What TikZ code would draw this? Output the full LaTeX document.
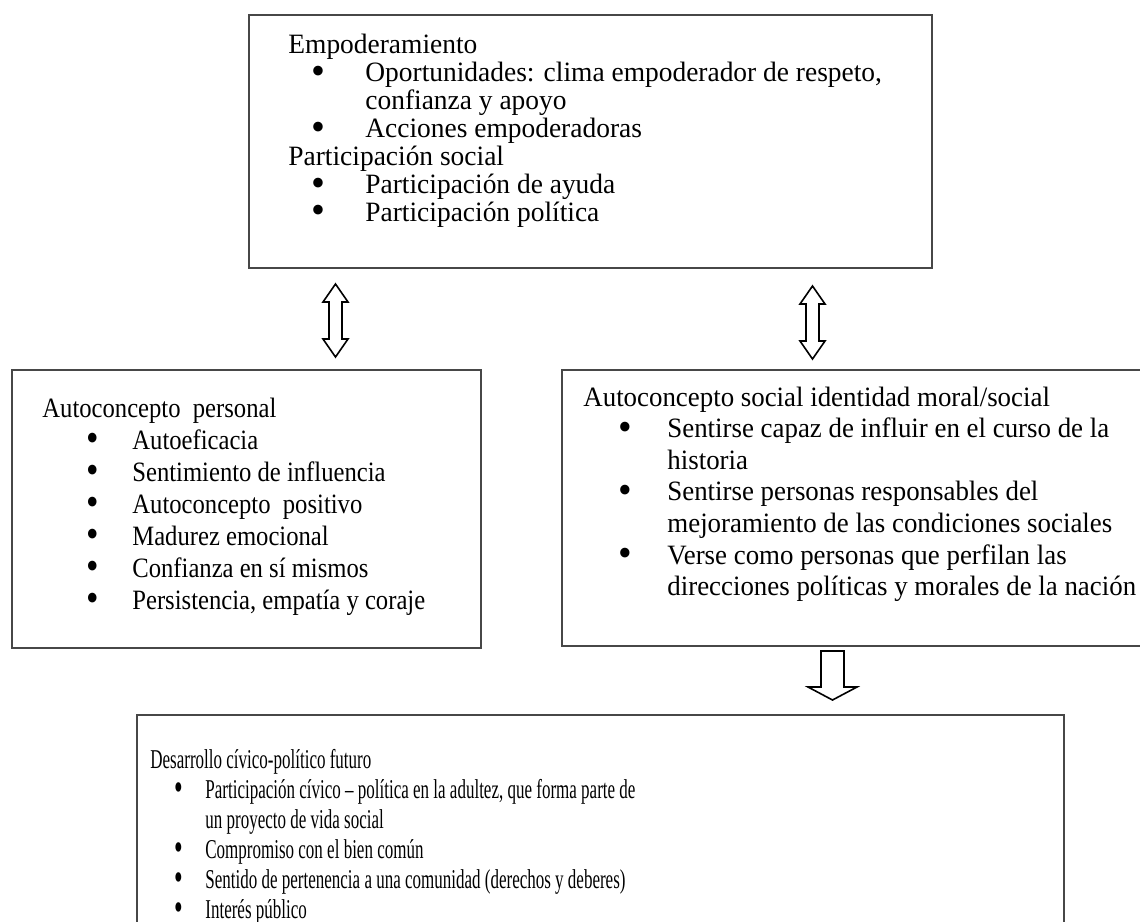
\documentclass[tikz,border=0pt]{standalone}
\usepackage{fontspec}
\setmainfont{Liberation Serif}
\newfontfamily\ftop[FakeStretch=0.98,Ligatures=TeX]{Liberation Serif}
\newfontfamily\fleft[FakeStretch=0.88,Ligatures=TeX]{Liberation Serif}
\newfontfamily\fright[FakeStretch=0.96,Ligatures=TeX]{Liberation Serif}
\newfontfamily\fbot[FakeStretch=0.625,Ligatures=TeX]{Liberation Serif}
\tikzset{
  box/.style={draw=black!72, line width=0.9pt},
  txt/.style={anchor=base west, inner sep=0pt},
  blockarrow/.style={draw=black, line width=0.8pt, fill=white, line join=miter},
}
\newcommand\bitem[2]{\rlap{\hspace{#1}\makebox[0pt]{\raisebox{-0.1em}{\scalebox{1.45}{\textbullet}}}}\hspace{#2}}
\begin{document}
\begin{tikzpicture}[x=0.5pt,y=-0.5pt]
\useasboundingbox (0,0) rectangle (1140,921);
\clip (0,0) rectangle (1140,921);
% boxes
\draw[box] (249,15) rectangle (932,268);
\draw[box] (12,370) rectangle (481,648);
\draw[box] (1150,370) -- (562,370) -- (562,646) -- (1150,646);
\draw[box] (137,940) -- (137,715) -- (1064,715) -- (1064,940);
% texts
\node[txt, font=\ftop\fontsize{14}{13.9}\selectfont] (ttop) at (288,54) {\begin{tabular}[t]{@{}l@{}}
Empoderamiento\\
\bitem{15pt}{38.5pt}Oportunidades: clima empoderador de respeto,\\
\hspace{38.5pt}confianza y apoyo\\
\bitem{15pt}{38.5pt}Acciones empoderadoras\\
Participación social\\
\bitem{15pt}{38.5pt}Participación de ayuda\\
\bitem{15pt}{38.5pt}Participación política
\end{tabular}};
\node[txt, font=\fleft\fontsize{14}{16}\selectfont] (tleft) at (42,417) {\begin{tabular}[t]{@{}l@{}}
Autoconcepto\ \ personal\\
\bitem{25pt}{45pt}Autoeficacia\\
\bitem{25pt}{45pt}Sentimiento de influencia\\
\bitem{25pt}{45pt}Autoconcepto\ \ positivo\\
\bitem{25pt}{45pt}Madurez emocional\\
\bitem{25pt}{45pt}Confianza en sí mismos\\
\bitem{25pt}{45pt}Persistencia, empatía y coraje
\end{tabular}};
\node[txt, font=\fright\fontsize{14}{15.8}\selectfont] (tright) at (583,406) {\begin{tabular}[t]{@{}l@{}}
Autoconcepto social identidad moral/social\\
\bitem{21pt}{42pt}Sentirse capaz de influir en el curso de la\\
\hspace{42pt}historia\\
\bitem{21pt}{42pt}Sentirse personas responsables del\\
\hspace{42pt}mejoramiento de las condiciones sociales\\
\bitem{21pt}{42pt}Verse como personas que perfilan las\\
\hspace{42pt}direcciones políticas y morales de la nación
\end{tabular}};
\node[txt, font=\fbot\fontsize{13.6}{15}\selectfont] (tbot) at (150,768) {\begin{tabular}[t]{@{}l@{}}
Desarrollo cívico-político futuro\\
\bitem{14pt}{27.5pt}Participación cívico – política en la adultez, que forma parte de\\
\hspace{27.5pt}un proyecto de vida social\\
\bitem{14pt}{27.5pt}Compromiso con el bien común\\
\bitem{14pt}{27.5pt}Sentido de pertenencia a una comunidad (derechos y deberes)\\
\bitem{14pt}{27.5pt}Interés público
\end{tabular}};
% block arrows
\draw[blockarrow] (335.5,284) -- (348,302) -- (342,302) -- (342,339) -- (348,339) -- (335.5,357)
  -- (323,339) -- (329,339) -- (329,302) -- (323,302) -- cycle;
\draw[blockarrow] (812.5,286) -- (825,304) -- (819,304) -- (819,341) -- (825,341) -- (812.5,359)
  -- (800,341) -- (806,341) -- (806,304) -- (800,304) -- cycle;
\draw[blockarrow] (821,651) -- (844,651) -- (844,687) -- (857,687) -- (832.5,700) -- (808,687)
  -- (821,687) -- cycle;
\end{tikzpicture}
\end{document}
